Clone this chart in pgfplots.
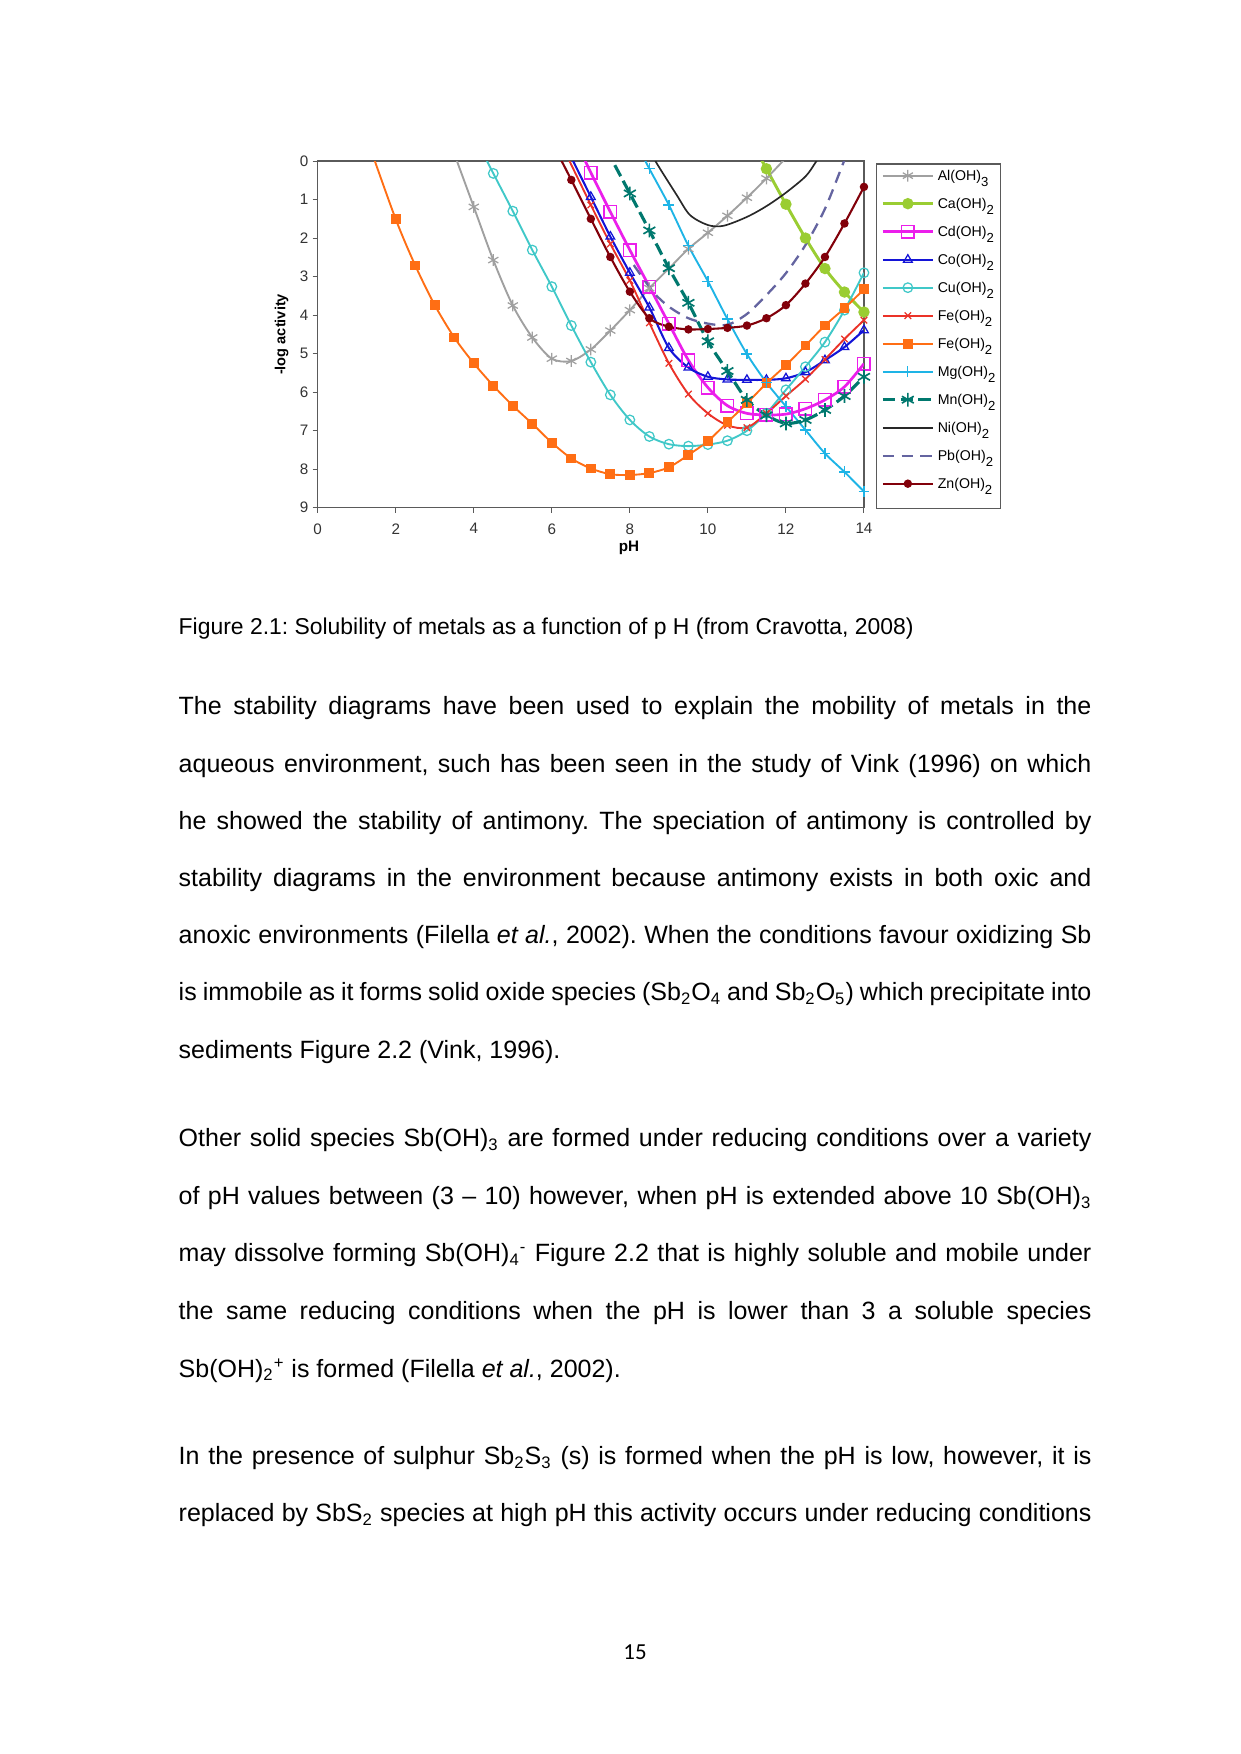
\documentclass[border=0pt]{standalone}
\usepackage{fontspec}
\setmainfont{Liberation Sans}
\newfontfamily\calib{Carlito}
\usepackage{pgfplots}
\pgfplotsset{compat=1.18}
\frenchspacing
\definecolor{cAl}{RGB}{160,160,160}
\definecolor{cCa}{RGB}{154,205,50}
\definecolor{cCd}{RGB}{235,30,235}
\definecolor{cCo}{RGB}{20,20,215}
\definecolor{cCu}{RGB}{64,200,200}
\definecolor{cFe}{RGB}{235,50,40}
\definecolor{cFeo}{RGB}{255,110,20}
\definecolor{cMg}{RGB}{30,180,230}
\definecolor{cMn}{RGB}{0,120,110}
\definecolor{cNi}{RGB}{40,40,40}
\definecolor{cPb}{RGB}{100,100,160}
\definecolor{cZn}{RGB}{130,0,10}
\definecolor{axgray}{RGB}{90,90,90}
\newcommand\ls[1]{\raisebox{-2.6pt}{\fontsize{6.3}{7}\selectfont #1}}
\begin{document}
\begin{tikzpicture}[x=0.48pt,y=0.48pt]
\path[fill=white] (0,0) rectangle (1241,1754);
\begin{axis}[
  at={(152.5pt,598.2pt)}, anchor=south west,
  scale only axis, width=262.2pt, height=166.4pt,
  xmin=0, xmax=14, ymin=0, ymax=9, y dir=reverse,
  xtick={0,2,...,14}, ytick={0,1,...,9},
  tick align=outside, tick pos=left, major tick length=2.5pt,
  axis line style={axgray, line width=0.6pt},
  tick style={axgray, line width=0.5pt},
  /pgf/number format/assume math mode=true,
  ticklabel style={font=\fontsize{7.3}{8}\selectfont, text=black!80},
  xticklabel style={yshift=-1.5pt},
  yticklabel style={xshift=1.5pt},
  ylabel={\bfseries -log activity},
  ylabel style={font=\fontsize{7}{8}\selectfont, at={(axis description cs:-0.066,0.5)}, anchor=center},
  xlabel={\bfseries pH},
  xlabel style={font=\fontsize{7.3}{8}\selectfont, at={(axis description cs:0.570,-0.116)}, anchor=center},
  legend image code/.code={\draw[mark repeat=2,mark phase=2] plot coordinates {(0pt,2.4pt)(12pt,2.4pt)(24pt,2.4pt)};},
  legend style={at={(axis description cs:1.022,0.9934)}, anchor=north west,
    draw=axgray, line width=0.6pt, inner xsep=2.25pt, inner ysep=2pt,
    row sep=0pt, column sep=1.6pt,
    font=\fontsize{6.8}{8}\selectfont,
    cells={anchor=base west},
    nodes={inner sep=0pt, text height=6pt, text depth=7.44pt, text width=28pt, align=left}},
  every axis plot/.append style={smooth, tension=0.5, line width=0.9pt},
]
% Al(OH)3
\addplot[cAl, mark=asterisk, mark size=2.8pt, mark options={solid, line width=0.6pt}] coordinates {
(3.46,-0.3)(4,1.19)(4.5,2.57)(5,3.75)(5.5,4.58)(6,5.13)(6.5,5.19)(7,4.89)(7.5,4.40)(8,3.87)(8.5,3.30)(9,2.79)(9.5,2.28)(10,1.86)(10.5,1.42)(11,0.95)(11.5,0.45)(12.2,-0.3)};
\addlegendentry{Al(OH)\ls{3}}
% Ca(OH)2
\addplot[cCa, line width=1.4pt, mark=*, mark size=2pt, mark options={solid}] coordinates {
(11.23,-0.3)(11.5,0.2)(12,1.12)(12.5,2.0)(13,2.79)(13.5,3.4)(14,3.92)};
\addlegendentry{Ca(OH)\ls{2}}
% Cd(OH)2
\addplot[cCd, line width=1.3pt, mark=square, mark size=3pt, mark options={solid, line width=0.7pt}] coordinates {
(6.72,-0.3)(7,0.3)(7.5,1.32)(8,2.31)(8.5,3.26)(9,4.22)(9.5,5.17)(10,5.88)(10.5,6.35)(11,6.55)(11.5,6.59)(12,6.57)(12.5,6.43)(13,6.2)(13.5,5.86)(14,5.26)};
\addlegendentry{Cd(OH)\ls{2}}
% Co(OH)2
\addplot[cCo, line width=1pt, mark=triangle, mark size=2.4pt, mark options={solid, line width=0.6pt}] coordinates {
(6.4,-0.3)(7,0.93)(7.5,1.96)(8,2.9)(8.5,3.8)(9,4.85)(9.5,5.36)(10,5.6)(10.5,5.67)(11,5.68)(11.5,5.68)(12,5.64)(12.5,5.48)(13,5.17)(13.5,4.83)(14,4.39)};
\addlegendentry{Co(OH)\ls{2}}
% Cu(OH)2
\addplot[cCu, mark=o, mark size=2.3pt, mark options={solid, line width=0.6pt}] coordinates {
(4.19,-0.3)(4.5,0.32)(5,1.30)(5.5,2.31)(6,3.26)(6.5,4.27)(7,5.22)(7.5,6.07)(8,6.72)(8.5,7.15)(9,7.35)(9.5,7.40)(10,7.36)(10.5,7.26)(11,7.0)(11.5,6.55)(12,5.94)(12.5,5.34)(13,4.7)(13.5,3.87)(14,2.9)};
\addlegendentry{Cu(OH)\ls{2}}
% Fe(OH)2 red
\addplot[cFe, mark=x, mark size=2.2pt, mark options={solid, line width=0.6pt}] coordinates {
(6.31,-0.3)(7,1.14)(7.5,2.15)(8,3.1)(8.5,4.2)(9,5.25)(9.5,6.05)(10,6.55)(10.5,6.86)(11,6.92)(11.5,6.55)(12,6.1)(12.5,5.66)(13,5.15)(13.5,4.62)(14,4.13)};
\addlegendentry{Fe(OH)\ls{2}}
% Fe(OH)2 orange
\addplot[cFeo, mark=square*, mark size=1.9pt, mark options={solid}] coordinates {
(1.36,-0.3)(2,1.51)(2.5,2.71)(3,3.74)(3.5,4.58)(4,5.25)(4.5,5.83)(5,6.35)(5.5,6.82)(6,7.31)(6.5,7.72)(7,7.98)(7.5,8.13)(8,8.15)(8.5,8.1)(9,7.95)(9.5,7.63)(10,7.27)(10.5,6.78)(11,6.29)(11.5,5.77)(12,5.30)(12.5,4.79)(13,4.27)(13.5,3.82)(14,3.33)};
\addlegendentry{Fe(OH)\ls{2}}
% Mg(OH)2
\addplot[cMg, mark=+, mark size=2.6pt, mark options={solid, line width=0.6pt}] coordinates {
(8.25,-0.3)(8.5,0.2)(9,1.14)(9.5,2.2)(10,3.12)(10.5,4.1)(11,5.01)(11.5,5.75)(12,6.37)(12.5,6.98)(13,7.59)(13.5,8.07)(14,8.58)};
\addlegendentry{Mg(OH)\ls{2}}
% Mn(OH)2
\addplot[cMn, line width=1.5pt, dash pattern=on 6pt off 2.5pt, mark=asterisk, mark size=3.3pt, mark options={solid, line width=0.8pt}] coordinates {
(7.4,-0.3)(8,0.84)(8.5,1.8)(9,2.78)(9.5,3.68)(10,4.68)(10.5,5.45)(11,6.2)(11.5,6.6)(12,6.81)(12.5,6.72)(13,6.46)(13.5,6.1)(14,5.6)};
\addlegendentry{Mn(OH)\ls{2}}
% Ni(OH)2
\addplot[cNi, line width=0.8pt] coordinates {
(8.52,-0.27)(8.69,0.06)(9.2,0.88)(9.54,1.40)(10,1.66)(10.4,1.68)(11,1.45)(11.5,1.17)(12,0.82)(12.5,0.4)(12.75,0.05)(12.95,-0.27)};
\addlegendentry{Ni(OH)\ls{2}}
% Pb(OH)2
\addplot[cPb, line width=1.1pt, dash pattern=on 5.5pt off 3.5pt] coordinates {
(8.1,2.7)(8.6,3.4)(9,3.78)(9.5,4.08)(10,4.22)(10.5,4.25)(11,3.97)(11.5,3.48)(12,2.91)(12.5,2.18)(13,1.24)(13.49,0)(13.62,-0.3)};
\addlegendentry{Pb(OH)\ls{2}}
% Zn(OH)2
\addplot[cZn, line width=1pt, mark=*, mark size=1.5pt, mark options={solid}] coordinates {
(6.1,-0.3)(6.5,0.49)(7,1.5)(7.5,2.49)(8,3.39)(8.5,4.08)(9,4.3)(9.5,4.37)(10,4.36)(10.5,4.33)(11,4.27)(11.5,4.08)(12,3.74)(12.5,3.18)(13,2.49)(13.5,1.62)(14,0.67)};
\addlegendentry{Zn(OH)\ls{2}}
\end{axis}
% caption and text
\node[anchor=base west, inner sep=0] at (178.3,1119) {\fontsize{11}{13}\selectfont Figure 2.1: Solubility of metals as a function of p H (from Cravotta, 2008)};
\begin{scope}[every node/.style={anchor=base west, inner sep=0, font=\fontsize{12}{14}\selectfont}]
\node at (178.3,1039) {\makebox[438.1pt][s]{The stability diagrams have been used to explain the mobility of metals in the}};
\node at (178.3,981.8) {\makebox[438.1pt][s]{aqueous environment, such has been seen in the study of Vink (1996) on which}};
\node at (178.3,924.6) {\makebox[438.1pt][s]{he showed the stability of antimony. The speciation of antimony is controlled by}};
\node at (178.3,867.4) {\makebox[438.1pt][s]{stability diagrams in the environment because antimony exists in both oxic and}};
\node at (178.3,810.2) {\makebox[438.1pt][s]{anoxic environments (Filella \textit{et al.}, 2002). When the conditions favour oxidizing Sb}};
\node at (178.3,753) {\makebox[438.1pt][s]{is immobile as it forms solid oxide species (Sb\textsubscript{2}O\textsubscript{4} and Sb\textsubscript{2}O\textsubscript{5}) which precipitate into}};
\node at (178.3,695.8) {sediments Figure 2.2 (Vink, 1996).};
\node at (178.3,607.3) {\makebox[438.1pt][s]{Other solid species Sb(OH)\textsubscript{3} are formed under reducing conditions over a variety}};
\node at (178.3,549.7) {\makebox[438.1pt][s]{of pH values between (3 – 10) however, when pH is extended above 10 Sb(OH)\textsubscript{3}}};
\node at (178.3,492.1) {\makebox[438.1pt][s]{may dissolve forming Sb(OH)\textsubscript{4}\textsuperscript{-} Figure 2.2 that is highly soluble and mobile under}};
\node at (178.3,434.5) {\makebox[438.1pt][s]{the same reducing conditions when the pH is lower than 3 a soluble species}};
\node at (178.3,376.9) {Sb(OH)\textsubscript{2}\textsuperscript{+} is formed (Filella \textit{et al.}, 2002).};
\node at (178.3,289) {\makebox[438.1pt][s]{In the presence of sulphur Sb\textsubscript{2}S\textsubscript{3} (s) is formed when the pH is low, however, it is}};
\node at (178.3,232.3) {\makebox[438.1pt][s]{replaced by SbS\textsubscript{2} species at high pH this activity occurs under reducing conditions}};
\end{scope}
\node[anchor=base, inner sep=0] at (635,94.7) {\calib\fontsize{11}{13}\selectfont 15};
\end{tikzpicture}
\end{document}
